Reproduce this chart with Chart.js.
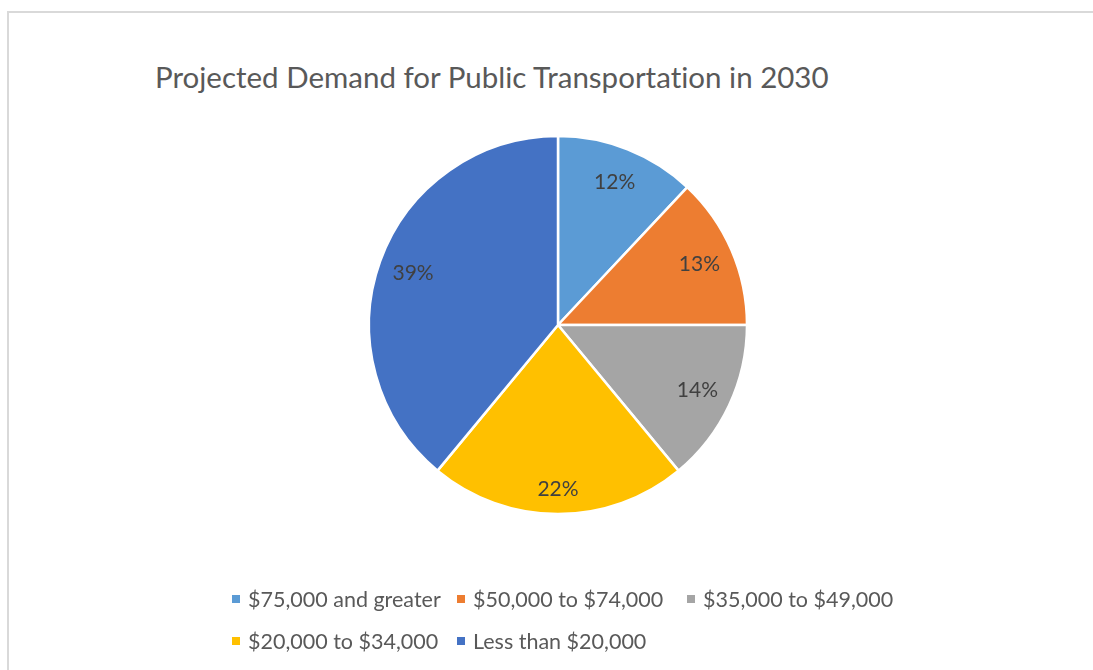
<!DOCTYPE html>
<html>
<head>
<meta charset="utf-8">
<script src="https://cdn.jsdelivr.net/npm/chart.js@4.4.0/dist/chart.umd.min.js"></script>
<style>
  html, body { margin: 0; padding: 0; background: #fff; overflow: hidden; }
  body { width: 1093px; height: 670px; position: relative; font-family: Lato, "Open Sans", sans-serif;
         font-variant-ligatures: none; }
  #frame { position: absolute; left: 7px; top: 11px; width: 1200px; height: 800px;
           border-top: 2px solid #d9d9d9; border-left: 2px solid #d9d9d9; }
  #title { position: absolute; left: 155px; top: 59px; font-size: 29.5px; color: #595959; white-space: nowrap; }
  #wrap { position: absolute; left: 0; top: 0; width: 1093px; height: 670px; }
  #legend { position: absolute; left: 232px; top: 586px; display: grid;
            grid-template-columns: 225px 230px auto; row-gap: 16px;
            font-size: 21.5px; color: #595959; }
  .item { display: flex; align-items: center; white-space: nowrap; height: 26px; }
  .box { width: 8px; height: 8px; margin-right: 8px; flex: none; }
</style>
</head>
<body>
<div id="frame"></div>
<div id="title">Projected Demand for Public Transportation in 2030</div>
<div id="wrap"><canvas id="pieChart"></canvas></div>
<div id="legend"></div>
<script>
// data
var categories = ['$75,000 and greater', '$50,000 to $74,000', '$35,000 to $49,000', '$20,000 to $34,000', 'Less than $20,000'];
var shares = [12, 13, 14, 22, 39];
var colors = ['#5B9BD5', '#ED7D31', '#A5A5A5', '#FFC000', '#4472C4'];

// percent labels inside the slices
var sliceLabels = {
  id: 'sliceLabels',
  afterDatasetsDraw(chart) {
    var ctx = chart.ctx;
    var meta = chart.getDatasetMeta(0);
    var total = shares.reduce((a, b) => a + b, 0);
    ctx.save();
    ctx.font = '21px Lato';
    ctx.fillStyle = '#404040';
    ctx.textAlign = 'center';
    ctx.textBaseline = 'middle';
    meta.data.forEach((arc, i) => {
      var mid = (arc.startAngle + arc.endAngle) / 2;
      // excel pushes the big bottom label a bit further out
      var k = Math.sin(mid) > 0.95 ? 0.87 : 0.815;
      var r = arc.outerRadius * k;
      var x = arc.x + Math.cos(mid) * r;
      var y = arc.y + Math.sin(mid) * r;
      ctx.fillText(Math.round(shares[i] / total * 100) + '%', x, y);
    });
    ctx.restore();
  }
};

var pie = new Chart(document.getElementById('pieChart'), {
  type: 'pie',
  data: {
    labels: categories,
    datasets: [{
      data: shares,
      backgroundColor: colors,
      borderColor: '#ffffff',
      borderWidth: 2.5
    }]
  },
  options: {
    responsive: true,
    maintainAspectRatio: false,
    animation: false,
    radius: 189,
    layout: { padding: { left: 123, right: 100, top: 100, bottom: 120 } },
    plugins: {
      legend: { display: false },
      tooltip: { enabled: false }
    }
  },
  plugins: [sliceLabels]
});

// legend like the excel one
var legend = document.getElementById('legend');
categories.forEach((c, i) => {
  var item = document.createElement('div');
  item.className = 'item';
  item.innerHTML = '<span class="box" style="background:' + colors[i] + '"></span><span>' + c + '</span>';
  legend.appendChild(item);
});
</script>
</body>
</html>
